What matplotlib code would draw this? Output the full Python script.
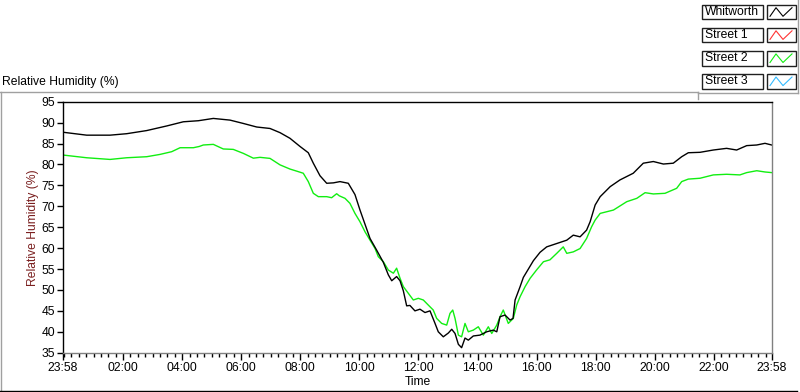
import matplotlib
matplotlib.use('Agg')
import matplotlib.pyplot as plt
from matplotlib.lines import Line2D
from matplotlib.patches import Rectangle
import numpy as np

# Time in hours after midnight (chart runs 23:58 -> 23:58)
whitworth_t = [-0.033, 0.769, 1.558, 2.123, 2.80, 3.477, 4.04, 4.547, 5.055, 5.62,
               6.07, 6.524, 6.974, 7.313, 7.65, 7.99, 8.27, 8.44, 8.666, 8.893,
               9.12, 9.343, 9.624, 9.85, 10.02, 10.19, 10.36, 10.585, 10.81, 10.98,
               11.094, 11.26, 11.375, 11.487, 11.60, 11.71, 11.88, 12.05, 12.22, 12.39,
               12.56, 12.67, 12.84, 13.01, 13.125, 13.237, 13.35, 13.46, 13.575, 13.687,
               13.856, 14.08, 14.31, 14.53, 14.65, 14.76, 14.93, 15.10, 15.20, 15.27,
               15.44, 15.55, 15.72, 15.89, 16.115, 16.34, 16.68, 17.02, 17.24, 17.47,
               17.69, 17.81, 17.98, 18.15, 18.49, 18.82, 19.27, 19.61, 19.95, 20.29,
               20.625, 20.91, 21.134, 21.53, 21.98, 22.43, 22.77, 23.11, 23.45, 23.73,
               23.955]
whitworth_rh = [87.7, 87.0, 87.0, 87.35, 88.1, 89.2, 90.2, 90.45, 91.0, 90.6,
                89.8, 88.95, 88.6, 87.6, 86.25, 84.3, 82.8, 80.3, 77.3, 75.5,
                75.6, 75.9, 75.5, 72.8, 69.1, 65.7, 62.3, 59.5, 56.6, 53.6,
                52.2, 53.2, 52.2, 49.8, 46.2, 46.3, 45.0, 45.4, 44.6, 45.0,
                42.0, 40.0, 38.8, 39.7, 40.6, 39.6, 37.0, 36.2, 38.5, 38.0,
                39.0, 39.2, 40.0, 40.4, 40.0, 43.6, 44.0, 42.8, 43.2, 47.6,
                50.8, 53.0, 55.0, 57.0, 59.0, 60.3, 61.1, 61.9, 63.1, 62.7,
                64.3, 66.3, 70.3, 72.3, 74.7, 76.3, 77.9, 80.3, 80.7, 80.1,
                80.3, 81.85, 82.8, 82.9, 83.45, 83.85, 83.45, 84.5, 84.65, 85.05,
                84.65]

street2_t = [-0.033, 0.769, 1.558, 2.123, 2.80, 3.25, 3.646, 3.93, 4.38, 4.58,
             4.716, 5.055, 5.393, 5.73, 6.07, 6.41, 6.635, 6.974, 7.313, 7.65,
             7.878, 8.10, 8.27, 8.44, 8.61, 8.893, 9.06, 9.23, 9.32, 9.513,
             9.68, 9.85, 10.02, 10.19, 10.36, 10.53, 10.64, 10.81, 10.98, 11.15,
             11.26, 11.375, 11.487, 11.656, 11.825, 11.994, 12.163, 12.33, 12.50, 12.616,
             12.785, 12.955, 13.067, 13.16, 13.237, 13.35, 13.46, 13.575, 13.687, 13.856,
             14.025, 14.195, 14.364, 14.48, 14.65, 14.76, 14.87, 15.04, 15.21, 15.325,
             15.44, 15.61, 15.78, 16.0, 16.23, 16.45, 16.68, 16.90, 17.02, 17.24,
             17.47, 17.69, 17.86, 17.98, 18.15, 18.60, 19.05, 19.39, 19.67, 19.95,
             20.345, 20.74, 20.91, 21.134, 21.53, 21.98, 22.43, 22.88, 23.11, 23.45,
             23.73, 23.955]
street2_rh = [82.25, 81.6, 81.2, 81.6, 81.85, 82.4, 83.05, 84.0, 84.0, 84.3,
              84.65, 84.8, 83.7, 83.6, 82.65, 81.5, 81.7, 81.45, 79.9, 78.9,
              78.4, 77.9, 75.9, 73.1, 72.3, 72.3, 72.05, 73.0, 72.5, 71.9,
              70.7, 68.3, 66.3, 63.9, 61.9, 59.9, 57.95, 56.75, 54.75, 54.0,
              55.2, 52.8, 50.8, 49.2, 47.6, 48.0, 47.6, 46.4, 45.2, 43.2,
              42.0, 41.6, 44.4, 45.2, 43.2, 39.2, 38.8, 42.0, 40.0, 40.4,
              41.2, 39.2, 41.2, 39.6, 41.6, 43.6, 45.2, 42.0, 43.2, 46.4,
              48.4, 50.8, 52.8, 54.8, 56.75, 57.2, 58.75, 60.3, 58.75, 59.1,
              59.9, 62.3, 65.1, 66.7, 68.3, 69.1, 71.1, 71.9, 73.25, 72.95,
              73.1, 74.3, 75.9, 76.5, 76.7, 77.5, 77.65, 77.5, 78.05, 78.5,
              78.2, 78.05]

# no data shown for these two
street1_t, street1_rh = [], []
street3_t, street3_rh = [], []

series_names = ['Whitworth', 'Street 1', 'Street 2', 'Street 3']
series_colors = ['#000000', '#ff3333', '#11ee11', '#33bbff']

plt.rcParams['font.family'] = ['Liberation Sans', 'DejaVu Sans']
fs = 8.7

fig = plt.figure(figsize=(8, 3.92), dpi=100)
W, H = 800, 392


def fx(x):
    return x / W


def fy(y):
    return 1 - y / H


ax = fig.add_axes([fx(63), fy(352.7), (772 - 63) / W, (352.7 - 101.7) / H])

data = [(whitworth_t, whitworth_rh), (street1_t, street1_rh),
        (street2_t, street2_rh), (street3_t, street3_rh)]
# green goes under black like the reference
for i in [2, 1, 3, 0]:
    ax.plot(data[i][0], data[i][1], color=series_colors[i], lw=1.0)

t0 = -2 / 60
ax.set_xlim(t0, 24 + t0)
ax.set_ylim(35, 95)
ax.set_yticks(range(35, 96, 5))
major = [t0] + list(range(2, 23, 2)) + [24 + t0]
labels = ['23:58'] + [f'{h:02d}:00' for h in range(2, 23, 2)] + ['23:58']
ax.set_xticks(major, labels)
ax.set_xticks(np.arange(0, 24, 0.25), minor=True)
ax.tick_params(axis='x', which='major', length=5, width=1, labelsize=fs, pad=2)
ax.tick_params(axis='x', which='minor', length=3, width=1)
ax.tick_params(axis='y', length=4, width=1, labelsize=fs, pad=1.5)

for s in ['left', 'top']:
    ax.spines[s].set_color('black')
for s in ['right', 'bottom']:
    ax.spines[s].set_color('#808080')
for s in ax.spines.values():
    s.set_linewidth(1)

ax.set_xlabel('Time', fontsize=fs, labelpad=1)
ax.set_ylabel('Relative Humidity (%)', fontsize=fs, color='#7a1f1f', labelpad=2)

fig.text(fx(2), fy(82), 'Relative Humidity (%)', fontsize=fs, va='center', ha='left')

# frame lines around the chart
fig.add_artist(Line2D([fx(0), fx(698)], [fy(92), fy(92)], color='#a0a0a0', lw=1))
fig.add_artist(Line2D([fx(698), fx(698)], [fy(92), fy(99)], color='#a0a0a0', lw=1))
fig.add_artist(Line2D([fx(698), fx(798)], [fy(93), fy(93)], color='#a0a0a0', lw=1))
fig.add_artist(Line2D([fx(0.5), fx(0.5)], [fy(92), fy(391)], color='#a0a0a0', lw=1))
fig.add_artist(Line2D([fx(0), fx(797)], [fy(390.5), fy(390.5)], color='black', lw=1))
fig.add_artist(Line2D([fx(798), fx(798)], [fy(0), fy(93)], color='#a0a0a0', lw=1))

# LabVIEW style plot legend
for k, name in enumerate(series_names):
    top = 4.7 + k * 23.1
    bot = top + 14.6
    fig.add_artist(Rectangle((fx(702), fy(bot)), (763 - 702) / W, (bot - top) / H,
                             transform=fig.transFigure, facecolor='white',
                             edgecolor='#202020', lw=1))
    fig.text(fx(705), fy((top + bot) / 2), name, fontsize=fs, va='center', ha='left')
    fig.add_artist(Rectangle((fx(767), fy(bot)), (796 - 767) / W, (bot - top) / H,
                             transform=fig.transFigure, facecolor='white',
                             edgecolor='#202020', lw=1))
    fig.add_artist(Line2D([fx(v) for v in [770, 776, 783, 792]],
                          [fy(v) for v in [bot - 3, top + 3, bot - 3, top + 3]],
                          color=series_colors[k], lw=0.8))

fig.savefig('out.png', dpi=100)
